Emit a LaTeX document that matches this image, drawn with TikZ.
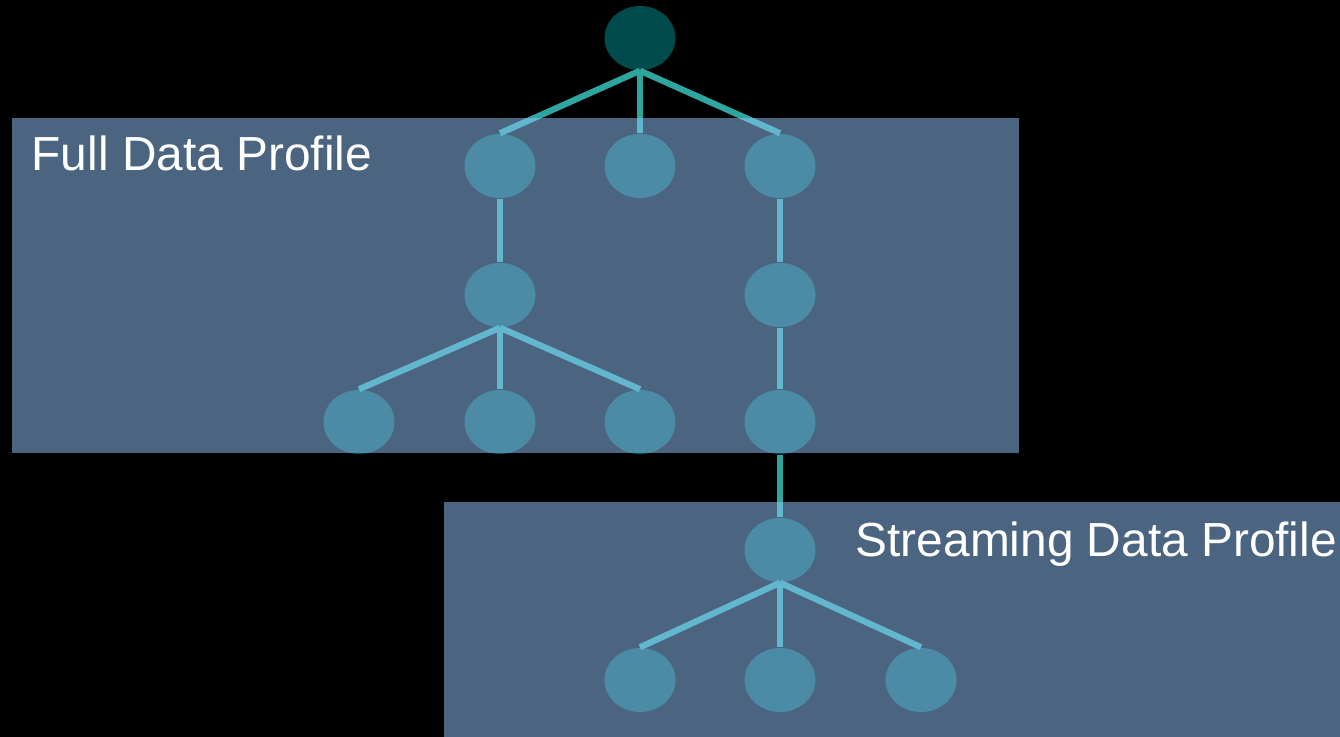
\documentclass[tikz,border=0pt]{standalone}
\usepackage{fontspec}
\setmainfont{Liberation Sans}
\usetikzlibrary{shapes.geometric}
\definecolor{rootcol}{RGB}{0,76,76}
\definecolor{linecol}{RGB}{47,165,160}
\definecolor{veil}{RGB}{150,202,255}
\tikzset{
  tnode/.style={ellipse,fill=rootcol,minimum width=0.71cm,minimum height=0.64cm,inner sep=0pt},
  edge/.style={draw=linecol,line width=0.062cm},
  panel/.style={fill=veil,fill opacity=0.5,draw=none},
  lbl/.style={text=white,font=\fontsize{13.6pt}{16pt}\selectfont,anchor=base west,inner sep=0pt}
}
\begin{document}
\begin{tikzpicture}[x=0.01cm,y=-0.01cm]
\fill[black] (0,0) rectangle (1340,737);
\useasboundingbox (0,0) rectangle (1340,737);
% nodes
\node[tnode] (r) at (640,38) {};
\node[tnode] (a1) at (500,166) {};
\node[tnode] (a2) at (640,166) {};
\node[tnode] (a3) at (780,166) {};
\node[tnode] (b1) at (500,295) {};
\node[tnode] (b3) at (780,295) {};
\node[tnode] (c1) at (359,422) {};
\node[tnode] (c2) at (500,422) {};
\node[tnode] (c3) at (640,422) {};
\node[tnode] (c4) at (780,422) {};
\node[tnode] (d4) at (780,550) {};
\node[tnode] (e1) at (640,680) {};
\node[tnode] (e2) at (780,680) {};
\node[tnode] (e3) at (921,680) {};
% edges
\draw[edge] (r.south) -- (a1.north);
\draw[edge] (r.south) -- (a2.north);
\draw[edge] (r.south) -- (a3.north);
\draw[edge] (a1.south) -- (b1.north);
\draw[edge] (a3.south) -- (b3.north);
\draw[edge] (b1.south) -- (c1.north);
\draw[edge] (b1.south) -- (c2.north);
\draw[edge] (b1.south) -- (c3.north);
\draw[edge] (b3.south) -- (c4.north);
\draw[edge] (c4.south) -- (d4.north);
\draw[edge] (d4.south) -- (e1.north);
\draw[edge] (d4.south) -- (e2.north);
\draw[edge] (d4.south) -- (e3.north);
% panels
\path[panel] (12,118) rectangle (1019,453);
\path[panel] (444,502) rectangle (1340,737);
% labels
\node[lbl] (t1) at (31,171) {Full Data Profile};
\node[lbl] (t2) at (855,556) {Streaming Data Profile};
\end{tikzpicture}
\end{document}
